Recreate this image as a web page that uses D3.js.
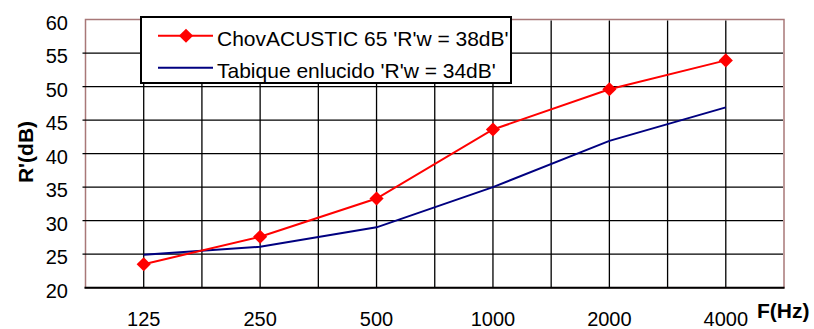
<!DOCTYPE html>
<html>
<head>
<meta charset="utf-8">
<script src="https://cdn.jsdelivr.net/npm/d3@7"></script>
<style>
  body { margin: 0; background: #fff; }
  text { font-family: "Liberation Sans", Arial, sans-serif; fill: #000; }
</style>
</head>
<body>
<script>
// data
var freqs = ['125', '250', '500', '1000', '2000', '4000'];
var chov = [23.5, 27.6, 33.3, 43.6, 49.6, 53.9];
var tabique = [24.9, 26.1, 29.0, 35.0, 41.9, 46.9];
var yTicks = [20, 25, 30, 35, 40, 45, 50, 55, 60];
var seriesNames = ["ChovACUSTIC 65 'R'w = 38dB'", "Tabique enlucido 'R'w = 34dB'"];

var width = 814, height = 329;
var plotL = 85.5, plotR = 784, plotT = 19.5, plotB = 287.7;

var svg = d3.select('body').append('svg')
    .attr('width', width)
    .attr('height', height);

var xScale = d3.scaleBand().domain(freqs).range([plotL, plotR]).padding(0);
var yScale = d3.scaleLinear().domain([20, 60]).range([plotB, plotT]);
var cx = d => xScale(d) + xScale.bandwidth() / 2;

// plot border
svg.append('rect')
    .attr('x', plotL).attr('y', plotT)
    .attr('width', plotR - plotL).attr('height', plotB - plotT)
    .attr('fill', 'none')
    .attr('stroke', '#a87878')
    .attr('stroke-width', 1.5);

// horizontal gridlines (with short ticks out to the left)
svg.selectAll('.hgrid')
    .data(yTicks.filter(v => v > 20 && v < 60))
    .enter().append('line')
    .attr('x1', plotL - 3).attr('x2', plotR - 1)
    .attr('y1', d => yScale(d)).attr('y2', d => yScale(d))
    .attr('stroke', '#000').attr('stroke-width', 1.3);

// vertical gridlines: band edges and band centres
var vlines = [];
freqs.forEach((f, i) => {
    vlines.push(cx(f));
    if (i > 0) vlines.push(xScale(f));
});
svg.selectAll('.vgrid')
    .data(vlines)
    .enter().append('line')
    .attr('x1', d => d).attr('x2', d => d)
    .attr('y1', plotT + 1).attr('y2', plotB)
    .attr('stroke', '#000').attr('stroke-width', 1.3);

// bottom axis line
svg.append('line')
    .attr('x1', plotL - 1).attr('x2', plotR + 0.5)
    .attr('y1', plotB).attr('y2', plotB)
    .attr('stroke', '#000').attr('stroke-width', 2);

// y tick labels
svg.selectAll('.ylab')
    .data(yTicks)
    .enter().append('text')
    .attr('x', 68)
    .attr('y', d => yScale(d) + 10)
    .attr('text-anchor', 'end')
    .style('font-size', '20px')
    .text(d => d);

// x tick labels
svg.selectAll('.xlab')
    .data(freqs)
    .enter().append('text')
    .attr('x', d => cx(d))
    .attr('y', 326)
    .attr('text-anchor', 'middle')
    .style('font-size', '20px')
    .text(d => d);

// axis titles
svg.append('text')
    .attr('transform', 'translate(33,152) rotate(-90)')
    .attr('text-anchor', 'middle')
    .style('font-size', '21px')
    .style('font-weight', 'bold')
    .text("R'(dB)");

svg.append('text')
    .attr('x', 757).attr('y', 318)
    .style('font-size', '21px')
    .style('font-weight', 'bold')
    .text('F(Hz)');

// lines
var line = d3.line()
    .x((d, i) => cx(freqs[i]))
    .y(d => yScale(d));

svg.append('path')
    .attr('d', line(tabique))
    .attr('fill', 'none')
    .attr('stroke', '#000080')
    .attr('stroke-width', 2);

svg.append('path')
    .attr('d', line(chov))
    .attr('fill', 'none')
    .attr('stroke', '#ff0000')
    .attr('stroke-width', 2);

var diamond = d3.symbol().type(d3.symbolSquare).size(100);
svg.selectAll('.pt')
    .data(chov)
    .enter().append('path')
    .attr('d', diamond)
    .attr('transform', (d, i) => `translate(${cx(freqs[i])},${yScale(d)}) rotate(45)`)
    .attr('fill', '#ff0000');

// legend
var lg = svg.append('g');
lg.append('rect')
    .attr('x', 141).attr('y', 17)
    .attr('width', 370).attr('height', 66)
    .attr('fill', '#fff')
    .attr('stroke', '#000')
    .attr('stroke-width', 2);
lg.append('line')
    .attr('x1', 158).attr('x2', 213).attr('y1', 35.7).attr('y2', 35.7)
    .attr('stroke', '#ff0000').attr('stroke-width', 2);
lg.append('path')
    .attr('d', diamond)
    .attr('transform', 'translate(186,35.7) rotate(45)')
    .attr('fill', '#ff0000');
lg.append('line')
    .attr('x1', 158).attr('x2', 213).attr('y1', 67.7).attr('y2', 67.7)
    .attr('stroke', '#000080').attr('stroke-width', 2);
lg.selectAll('.lgtext')
    .data(seriesNames)
    .enter().append('text')
    .attr('x', 217)
    .attr('y', (d, i) => 45.7 + i * 32)
    .style('font-size', '21px')
    .text(d => d);
</script>
</body>
</html>
